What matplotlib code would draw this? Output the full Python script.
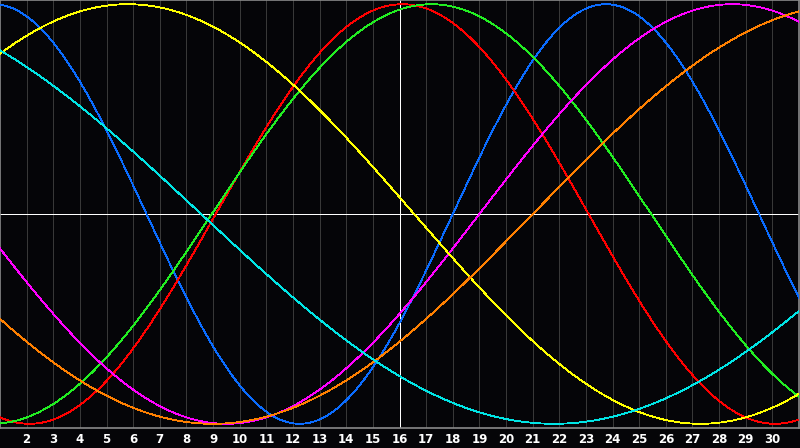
import numpy as np
import matplotlib
matplotlib.use("Agg")
import matplotlib.pyplot as plt

# Biorhythm cycles: name, period (days), day of upward zero crossing, colour
cycle_names = ["physical", "emotional", "intellectual", "intuitive", "aesthetic", "awareness", "spiritual"]
cycle_periods = [23, 28, 33, 38, 43, 48, 53]
cycle_zero_up = [18.0, 9.1, 8.95, 19.0, -4.95, 21.0, -17.95]
cycle_colors = ["#0a6cff", "#ff0000", "#22ee22", "#ff00ff", "#ffff00", "#ff8000", "#00e5e5"]

days = list(range(1, 32))
tick_days = list(range(2, 31))
tick_labels = [str(d) for d in tick_days]
today = 16

fig = plt.figure(figsize=(8, 4.48), dpi=100, facecolor="#050508")
ax = fig.add_axes([0, 20 / 448, 799 / 800, 428 / 448], facecolor="#050508")

t = np.linspace(days[0], days[-1], 1500)
for name, p, d0, c in zip(cycle_names, cycle_periods, cycle_zero_up, cycle_colors):
    ax.plot(t, np.sin(2 * np.pi * (t - d0) / p), color=c, lw=0.6, antialiased=False, zorder=3)

for d in tick_days:
    ax.axvline(d, color="#383838", lw=0.6, zorder=1, antialiased=False)
ax.axvline(today, color="#ffffff", lw=0.7, zorder=2, antialiased=False)
ax.axhline(0, color="#ffffff", lw=0.7, zorder=2, antialiased=False)

ax.set_xlim(days[0], days[-1])
ax.set_ylim(-1.02, 1.02)
ax.set_yticks([])
ax.set_xticks(tick_days)
ax.set_xticklabels(tick_labels, color="white", fontsize=8.5, fontweight="bold")
ax.tick_params(axis="x", length=0, pad=3.5)
for s in ax.spines.values():
    s.set_color("#8a8a8a")
    s.set_linewidth(1.2)

fig.savefig("out.png", dpi=100, facecolor=fig.get_facecolor())
